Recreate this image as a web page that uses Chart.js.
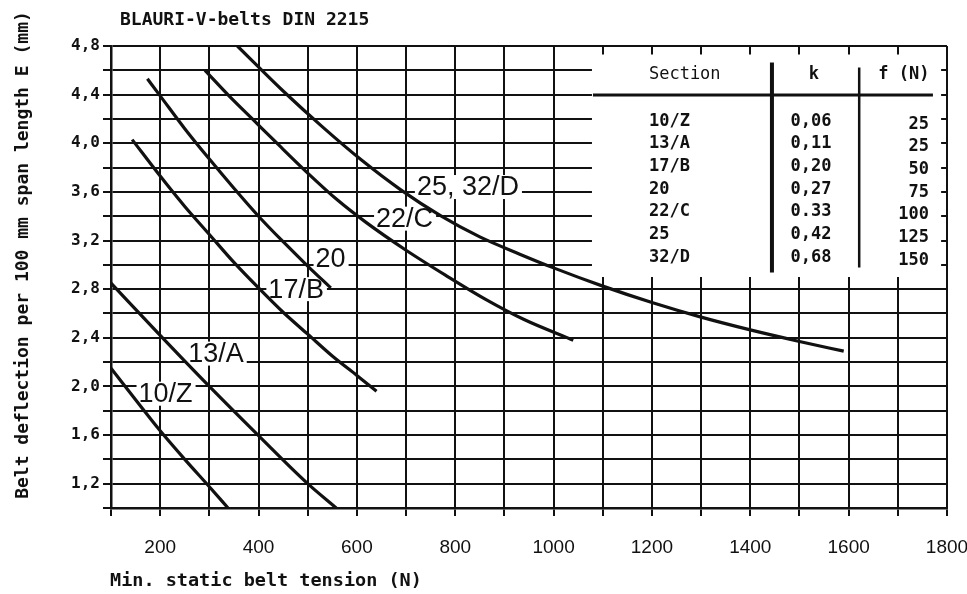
<!DOCTYPE html>
<html>
<head>
<meta charset="utf-8">
<script src="https://cdn.jsdelivr.net/npm/chart.js@4.4.1/dist/chart.umd.min.js"></script>
<style>
  html, body { margin: 0; padding: 0; background: #fff; }
  #wrap { position: relative; width: 967px; height: 594px; overflow: hidden; }
  #chart { position: absolute; left: 0; top: 0; }
  .txt { position: absolute; color: #111; white-space: nowrap; font-family: "DejaVu Sans Mono", monospace; }
  .title { left: 120px; top: 8px; font-size: 18px; font-weight: bold; line-height: 22px; }
  .xtitle { left: 110px; top: 569px; font-size: 18.5px; font-weight: bold; line-height: 22px; }
  .ytitle { left: -223px; top: 244px; width: 490px; height: 22px; line-height: 22px; text-align: center;
            font-size: 18px; font-weight: bold; transform: rotate(-90deg); }
  .cell { position: absolute; font-family: "DejaVu Sans Mono", monospace; font-size: 17px; font-weight: bold;
          line-height: 20px; color: #111; white-space: nowrap; }
</style>
</head>
<body>
<div id="wrap">
  <canvas id="chart" width="967" height="594"></canvas>
  <div class="txt title">BLAURI-V-belts DIN 2215</div>
  <div class="txt ytitle">Belt deflection per 100 mm span length E (mm)</div>
  <div class="txt xtitle">Min. static belt tension (N)</div>
  <div id="table"></div>
</div>
<script>
// curve names, as written on the chart
const curveNames = ["10/Z", "13/A", "17/B", "20", "22/C", "25, 32/D"];

// min. static belt tension (N) / deflection (mm)
const tension10Z = [100, 150, 200, 250, 300, 338];
const deflection10Z = [2.15, 1.89, 1.635, 1.4, 1.175, 1.0];
const tension13A = [100, 200, 300, 400, 500, 558];
const deflection13A = [2.85, 2.42, 2.0, 1.595, 1.2, 1.0];
const tension17B = [143, 200, 250, 300, 350, 400, 450, 500, 550, 600, 640];
const deflection17B = [4.03, 3.73, 3.48, 3.25, 3.02, 2.81, 2.61, 2.43, 2.25, 2.09, 1.96];
const tension20 = [174, 200, 250, 300, 350, 400, 450, 500, 547];
const deflection20 = [4.53, 4.39, 4.12, 3.87, 3.63, 3.40, 3.19, 2.99, 2.81];
const tension22C = [291, 340, 390, 440, 500, 560, 620, 700, 780, 860, 940, 1040];
const deflection22C = [4.6, 4.39, 4.19, 3.99, 3.755, 3.535, 3.345, 3.12, 2.915, 2.72, 2.55, 2.38];
const tension32D = [357, 450, 530, 610, 690, 770, 850, 930, 1000, 1100, 1200, 1300, 1400, 1500, 1590];
const deflection32D = [4.8, 4.43, 4.135, 3.86, 3.615, 3.405, 3.23, 3.09, 2.975, 2.825, 2.69, 2.57, 2.465, 2.37, 2.29];

// table in the upper right
const sections = ["10/Z", "13/A", "17/B", "20", "22/C", "25", "32/D"];
const kFactors = ["0,06", "0,11", "0,20", "0,27", "0.33", "0,42", "0,68"];
const forces = ["25", "25", "50", "75", "100", "125", "150"];

const tensionList = [tension10Z, tension13A, tension17B, tension20, tension22C, tension32D];
const deflectionList = [deflection10Z, deflection13A, deflection17B, deflection20, deflection22C, deflection32D];

const datasets = curveNames.map((name, i) => ({
  label: name,
  data: tensionList[i].map((t, j) => ({ x: t, y: deflectionList[i][j] })),
  borderColor: "#111",
  borderWidth: 3.2,
  pointRadius: 0,
  fill: false,
  cubicInterpolationMode: "monotone",
}));

// where each curve label sits (left edge, vertical centre) in data units
const labelSpots = [
  { x: 156, y: 1.94 },
  { x: 257, y: 2.27 },
  { x: 420, y: 2.8 },
  { x: 516, y: 3.05 },
  { x: 639, y: 3.38 },
  { x: 722, y: 3.64 },
];

const overlayPlugin = {
  id: "overlay",
  beforeDatasetsDraw(chart) {
    const { ctx, scales: { x, y } } = chart;
    ctx.save();

    // table box hiding the grid
    const L = x.getPixelForValue(1078), R = x.getPixelForValue(1788);
    const T = y.getPixelForValue(4.73), B = y.getPixelForValue(2.9);
    ctx.fillStyle = "#fff";
    ctx.fillRect(L, T, R - L, B - T);
    ctx.fillStyle = "#111";
    ctx.fillRect(L + 1, T + 39, 340, 3);
    ctx.fillRect(L + 178, T + 8, 4, 210);
    ctx.fillRect(L + 266, T + 13, 2.5, 200);

    // curve labels on white
    ctx.font = '27px "Liberation Sans", Arial, sans-serif';
    ctx.textBaseline = "middle";
    curveNames.forEach((name, i) => {
      const px = x.getPixelForValue(labelSpots[i].x);
      const py = y.getPixelForValue(labelSpots[i].y);
      const w = ctx.measureText(name).width;
      ctx.fillStyle = "#fff";
      ctx.fillRect(px - 2, py - 12, w + 5, 24);
      ctx.fillStyle = "#111";
      ctx.fillText(name, px, py + 1);
    });
    ctx.restore();
  },
};

const chart = new Chart(document.getElementById("chart"), {
  type: "line",
  data: { datasets },
  options: {
    responsive: false,
    animation: false,
    layout: { padding: { left: 0, right: 20, top: 46, bottom: 0 } },
    plugins: { legend: { display: false }, tooltip: { enabled: false } },
    scales: {
      x: {
        type: "linear",
        min: 100,
        max: 1800,
        afterFit(s) { s.height = 86; s.paddingLeft = 0; s.paddingRight = 0; },
        ticks: {
          stepSize: 100,
          autoSkip: false,
          maxRotation: 0,
          padding: 20,
          color: "#111",
          font: { family: '"Liberation Sans", Arial, sans-serif', size: 19 },
          callback: (v) => (v % 200 === 0 ? String(v) : ""),
        },
        grid: { color: "#111", lineWidth: 2, tickLength: 8 },
        border: { color: "#111", width: 2.5 },
      },
      y: {
        type: "linear",
        min: 1.0,
        max: 4.8,
        afterFit(s) { s.width = 111; },
        ticks: {
          stepSize: 0.2,
          autoSkip: false,
          padding: 3,
          color: "#111",
          font: { family: '"DejaVu Sans Mono", monospace', size: 16, weight: "bold" },
          callback: (v) => {
            const t = Math.round(v * 10);
            return t >= 12 && (t - 12) % 4 === 0 ? (t / 10).toFixed(1).replace(".", ",") : "";
          },
        },
        grid: { color: "#111", lineWidth: 2, tickLength: 8 },
        border: { color: "#111", width: 2.5 },
      },
    },
  },
  plugins: [overlayPlugin],
});

// table text over the white box
const xs = chart.scales.x, ys = chart.scales.y;
const L = xs.getPixelForValue(1078), T = ys.getPixelForValue(4.73);
const table = document.getElementById("table");
function cell(text, left, cy, align, weight) {
  const el = document.createElement("div");
  el.className = "cell";
  el.textContent = text;
  el.style.top = (T + cy - 10) + "px";
  if (weight) el.style.fontWeight = weight;
  if (align === "center") { el.style.left = (L + left - 100) + "px"; el.style.width = "200px"; el.style.textAlign = "center"; }
  else if (align === "right") { el.style.left = (L + left - 200) + "px"; el.style.width = "200px"; el.style.textAlign = "right"; }
  else el.style.left = (L + left) + "px";
  table.append(el);
}
cell("Section", 57, 18, "left", "normal");
cell("k", 222, 18, "center");
cell("f (N)", 312, 18, "center");
sections.forEach((s, i) => {
  const cy = 65 + i * 22.7;
  cell(s, 57, cy, "left");
  cell(kFactors[i], 219, cy, "center");
  cell(forces[i], 337, cy + 3, "right");
});
</script>
</body>
</html>
